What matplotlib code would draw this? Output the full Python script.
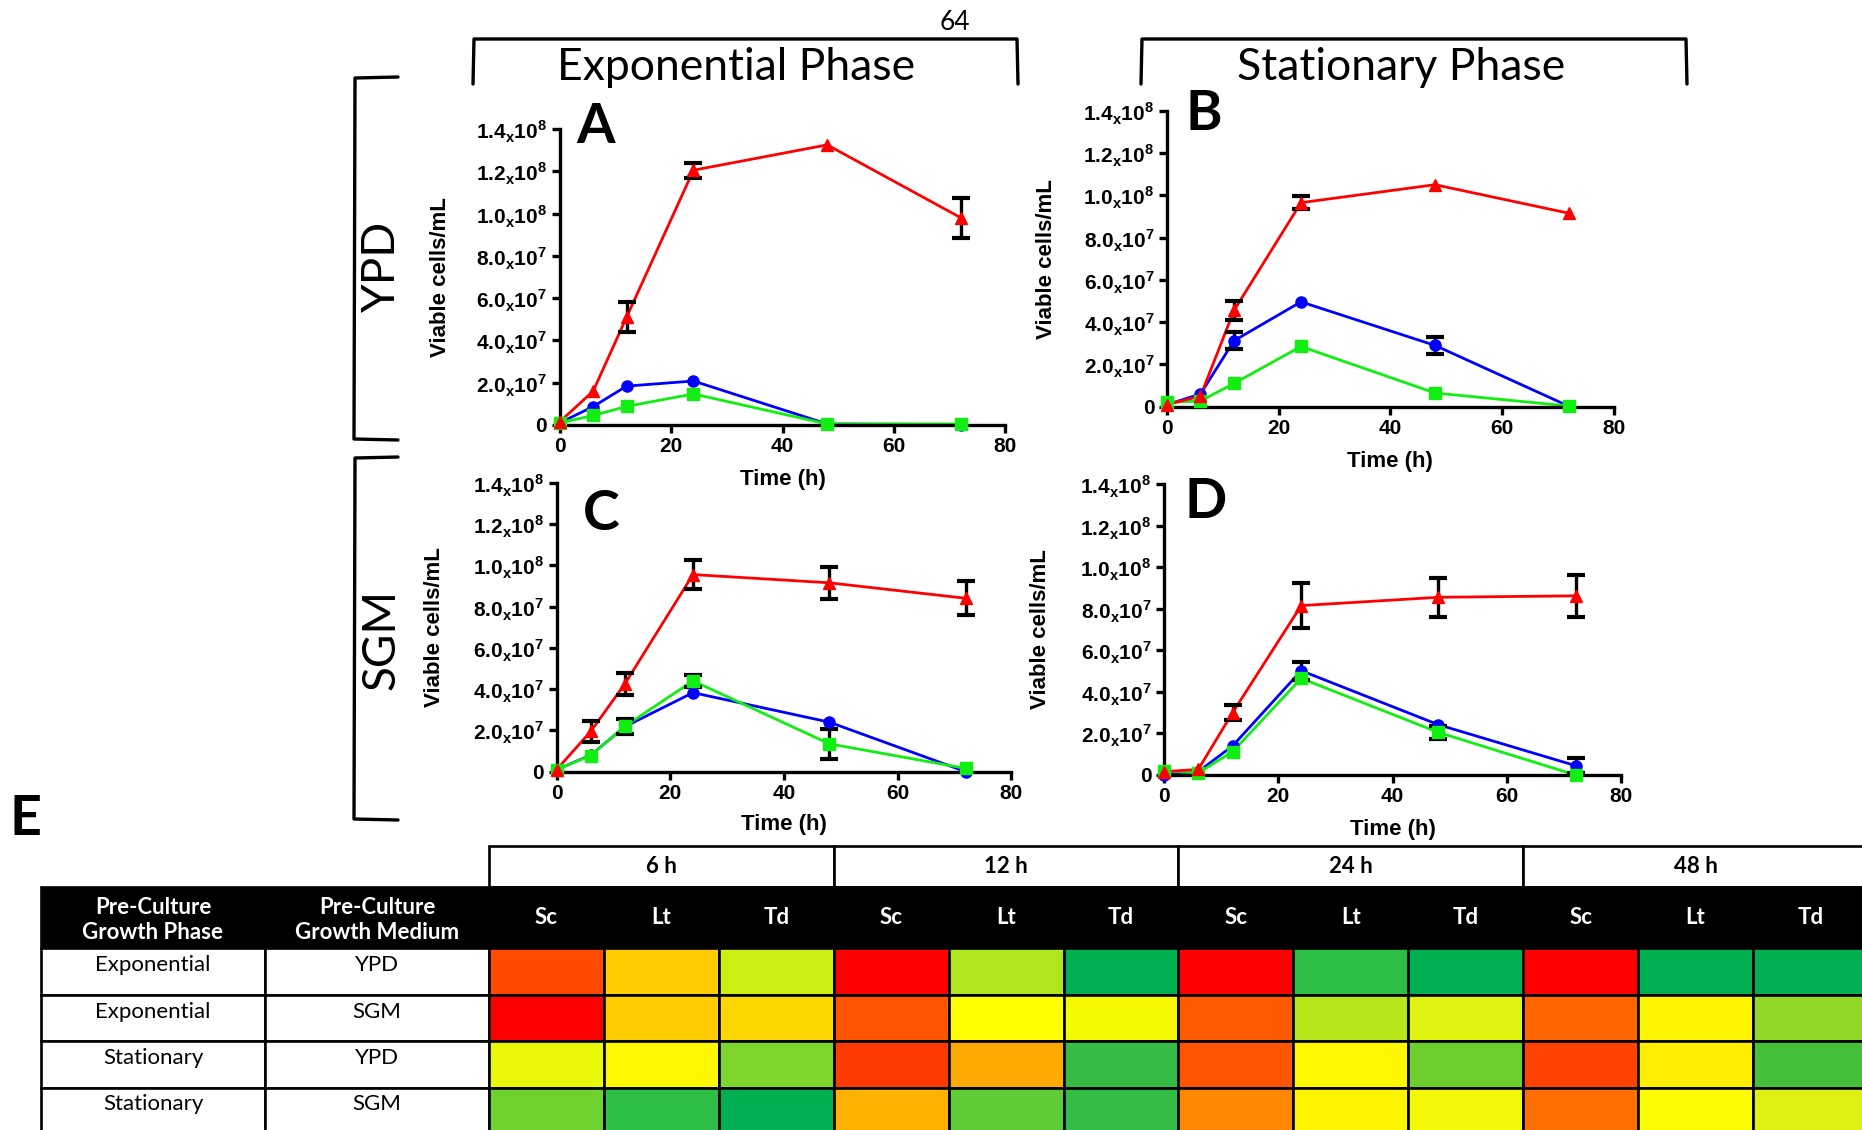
import matplotlib
matplotlib.use('Agg')
import matplotlib.pyplot as plt
from matplotlib.patches import Rectangle
import numpy as np

plt.rcParams['font.family'] = ['Liberation Sans', 'DejaVu Sans']
plt.rcParams['mathtext.fontset'] = 'custom'
plt.rcParams['mathtext.rm'] = 'Liberation Sans'
plt.rcParams['mathtext.bf'] = 'Liberation Sans:bold'

W, H = 1862, 1130

# sampling times (h)
times = [0, 6, 12, 24, 48, 72]

# viable cells/mL, in units of 1e7 ; *_err = error bar half height
a_red = [0.15, 1.6, 5.1, 12.05, 13.25, 9.8]
a_red_err = [0, 0, 0.7, 0.35, 0, 0.95]
a_blue = [0.1, 0.87, 1.84, 2.08, 0.05, 0.02]
a_blue_err = [0, 0, 0, 0, 0, 0]
a_green = [0.1, 0.45, 0.88, 1.47, 0.05, 0.05]
a_green_err = [0, 0, 0, 0, 0, 0]

b_red = [0.1, 0.5, 4.55, 9.65, 10.5, 9.15]
b_red_err = [0, 0, 0.43, 0.3, 0, 0]
b_blue = [0.1, 0.6, 3.12, 4.96, 2.9, 0.02]
b_blue_err = [0, 0, 0.4, 0, 0.42, 0]
b_green = [0.2, 0.27, 1.1, 2.85, 0.65, 0.03]
b_green_err = [0, 0, 0, 0, 0, 0]

c_red = [0.1, 1.95, 4.25, 9.55, 9.15, 8.4]
c_red_err = [0, 0.5, 0.55, 0.72, 0.78, 0.83]
c_blue = [0.1, 0.8, 2.18, 3.83, 2.4, 0.0]
c_blue_err = [0, 0, 0, 0, 0, 0]
c_green = [0.1, 0.78, 2.2, 4.4, 1.35, 0.16]
c_green_err = [0, 0, 0.36, 0.3, 0.74, 0]

d_red = [0.16, 0.27, 3.0, 8.15, 8.55, 8.62]
d_red_err = [0, 0, 0.35, 1.1, 0.95, 1.0]
d_blue = [0.0, 0.16, 1.4, 5.02, 2.42, 0.45]
d_blue_err = [0, 0, 0, 0.43, 0, 0.35]
d_green = [0.2, 0.1, 1.12, 4.65, 2.05, 0.0]
d_green_err = [0, 0, 0, 0, 0.3, 0]

# y tick labels
ytick_vals = [0, 2e7, 4e7, 6e7, 8e7, 1e8, 1.2e8, 1.4e8]
ytick_labels = ['0'] + [r'$\mathbf{%s}_{\mathbf{x}}\mathbf{10}^{\mathbf{%d}}$' % (m, e)
                        for m, e in [('2.0', 7), ('4.0', 7), ('6.0', 7), ('8.0', 7),
                                     ('1.0', 8), ('1.2', 8), ('1.4', 8)]]

# table E
row_phase = ['Exponential', 'Exponential', 'Stationary', 'Stationary']
row_medium = ['YPD', 'SGM', 'YPD', 'SGM']
time_groups = ['6 h', '12 h', '24 h', '48 h']
species = ['Sc', 'Lt', 'Td']
cell_colors = [
    ['#FF4A00', '#FFCC00', '#CCEE11', '#FF0000', '#B0E61E', '#00B050',
     '#FF0000', '#2DBE45', '#00B050', '#FF0000', '#00B050', '#00B050'],
    ['#FF0000', '#FFCC00', '#FFD700', '#FF5500', '#FFFF00', '#F5FA00',
     '#FF5A00', '#B4E61A', '#DFF510', '#FF6600', '#FFF500', '#8FD926'],
    ['#E8F808', '#FFF700', '#7ED42A', '#FF3A00', '#FFAA00', '#36BC44',
     '#FF5500', '#FFF700', '#6CCF2E', '#FF4200', '#FFEE00', '#44C03A'],
    ['#6ED12E', '#2DBE45', '#00B050', '#FFB300', '#5FCC35', '#33BD44',
     '#FF8800', '#FFF500', '#F2F806', '#FF6E00', '#FFFB00', '#DDF010'],
]

fig = plt.figure(figsize=(W / 100, H / 100), dpi=100)

# full-figure overlay in pixel coordinates for brackets, labels and the table
ov = fig.add_axes([0, 0, 1, 1])
ov.set_xlim(0, W)
ov.set_ylim(H, 0)
ov.axis('off')

blk = dict(color='black', lw=2.4, solid_joinstyle='round', solid_capstyle='round')
ov.plot([473, 474, 1017, 1018], [84, 39, 39, 84], **blk)
ov.plot([1141, 1142, 1686, 1687], [84, 39, 39, 84], **blk)
ov.plot([398, 355, 354, 398], [77, 78, 439, 440], **blk)
ov.plot([398, 355, 354, 398], [457, 458, 819, 820], **blk)

ov.text(736, 67, 'Exponential Phase', family='Lato', fontsize=32, ha='center', va='center')
ov.text(1401, 67, 'Stationary Phase', family='Lato', fontsize=32, ha='center', va='center')
ov.text(955, 22, '64', family='Lato', fontsize=19, ha='center', va='center')
ov.text(382, 266, 'YPD', family='Lato', fontsize=33, rotation=90, ha='center', va='center')
ov.text(382, 639, 'SGM', family='Lato', fontsize=33, rotation=90, ha='center', va='center')
ov.text(25, 819, 'E', family='Lato', fontweight='bold', fontsize=40, ha='center', va='center')

# ---- table
x0 = 489
cw = 114.9
top_y, hdr_y, body_y = 846, 887, 948
rh = 46.5
lw = 1.9
fs = 16
for g, lab in enumerate(time_groups):
    ov.add_patch(Rectangle((x0 + g * 3 * cw, top_y), 3 * cw, hdr_y - top_y,
                           facecolor='white', edgecolor='black', lw=lw))
    ov.text(x0 + (g * 3 + 1.5) * cw, (top_y + hdr_y) / 2, lab, family='Lato',
            fontweight='bold', fontsize=fs, ha='center', va='center')
ov.add_patch(Rectangle((41, hdr_y), W - 41 + 5, body_y - hdr_y, facecolor='black',
                       edgecolor='black', lw=lw))
ov.text(153, 920, 'Pre-Culture\nGrowth Phase', family='Lato', fontweight='bold',
        fontsize=fs, color='white', ha='center', va='center', linespacing=1.25)
ov.text(377, 920, 'Pre-Culture\nGrowth Medium', family='Lato', fontweight='bold',
        fontsize=fs, color='white', ha='center', va='center', linespacing=1.25)
for j in range(12):
    ov.text(x0 + (j + 0.5) * cw, (hdr_y + body_y) / 2, species[j % 3], family='Lato',
            fontweight='bold', fontsize=fs, color='white', ha='center', va='center')
for i in range(len(row_phase)):
    yt = body_y + i * rh
    ov.add_patch(Rectangle((41, yt), 265 - 41, rh, facecolor='white', edgecolor='black', lw=lw))
    ov.add_patch(Rectangle((265, yt), x0 - 265, rh, facecolor='white', edgecolor='black', lw=lw))
    ov.text(153, yt + 17, row_phase[i], family='Lato', fontsize=fs, ha='center', va='center')
    ov.text(377, yt + 17, row_medium[i], family='Lato', fontsize=fs, ha='center', va='center')
    for j, c in enumerate(cell_colors[i]):
        ov.add_patch(Rectangle((x0 + j * cw, yt), cw, rh, facecolor=c, edgecolor='black', lw=lw))


# ---- growth panels
def px_rect(left, top, right, bottom):
    return [left / W, 1 - bottom / H, (right - left) / W, (bottom - top) / H]


def panel(box, letter, letter_xy, ylab_x, xlab_y, series):
    left, top, right, bottom = box
    ax = fig.add_axes(px_rect(*box))
    ax.patch.set_alpha(0)
    for vals, errs, color, marker, ms in series:
        y = np.array(vals) * 1e7
        e = np.array(errs) * 1e7
        t = np.array(times)
        m = e > 0
        if m.any():
            ax.errorbar(t[m], y[m], yerr=e[m], fmt='none', ecolor='black', elinewidth=2.4,
                        capsize=6.5, capthick=3, zorder=3, clip_on=False)
        ax.plot(t, y, color=color, lw=2.0, zorder=2, clip_on=False)
        ax.plot(t, y, ls='none', marker=marker, ms=ms, color=color, zorder=4, clip_on=False)
    ax.set_xlim(0, 80)
    ax.set_ylim(0, 1.4e8)
    ax.set_xticks([0, 20, 40, 60, 80])
    ax.set_yticks(ytick_vals)
    ax.set_yticklabels(ytick_labels)
    for s in ['top', 'right']:
        ax.spines[s].set_visible(False)
    for s in ['left', 'bottom']:
        ax.spines[s].set_linewidth(2.4)
    ax.tick_params(direction='out', length=6, width=2.4, labelsize=15, pad=3)
    for lab in ax.get_xticklabels() + ax.get_yticklabels():
        lab.set_fontweight('bold')
    ax.set_ylabel('Viable cells/mL', fontsize=16, fontweight='bold')
    ax.set_xlabel('Time (h)', fontsize=16, fontweight='bold')
    # label anchors: right edge of the rotated y label, top of the x label
    ax.yaxis.set_label_coords((ylab_x + 10 - left) / (right - left), 0.5)
    ax.xaxis.set_label_coords(0.5, -(xlab_y - 9 - bottom) / (bottom - top))
    fig.text(letter_xy[0] / W, 1 - letter_xy[1] / H, letter, family='Lato', fontweight='bold',
             fontsize=40, ha='center', va='center')
    return ax


def trio(red, red_e, blue, blue_e, green, green_e):
    return [(blue, blue_e, '#0000FF', 'o', 8),
            (green, green_e, '#11EE11', 's', 8),
            (red, red_e, '#FF0000', '^', 8.5)]


panel((559.7, 129, 1005.5, 425), 'A', (596, 127), 441, 478,
      trio(a_red, a_red_err, a_blue, a_blue_err, a_green, a_green_err))
panel((1167, 110.7, 1613.6, 406.7), 'B', (1204, 114), 1047, 460,
      trio(b_red, b_red_err, b_blue, b_blue_err, b_green, b_green_err))
panel((556.6, 482.7, 1011.3, 771.7), 'C', (601, 514), 435, 823,
      trio(c_red, c_red_err, c_blue, c_blue_err, c_green, c_green_err))
panel((1164, 484, 1621.3, 775), 'D', (1206, 502), 1041.5, 828,
      trio(d_red, d_red_err, d_blue, d_blue_err, d_green, d_green_err))

fig.savefig('out.png', dpi=100)
